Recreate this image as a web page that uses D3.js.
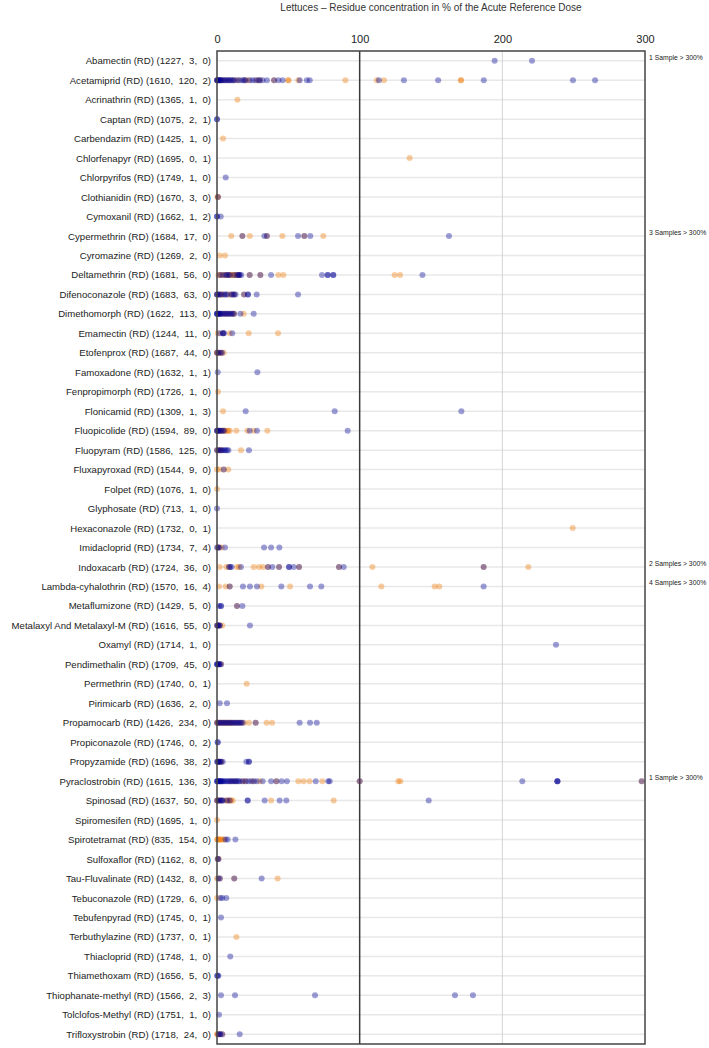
<!DOCTYPE html>
<html lang="en">
<head>
<meta charset="UTF-8" />
<title>Lettuces – Residue concentration in % of the Acute Reference Dose</title>
<script src="https://d3js.org/d3.v7.min.js"></script>
<style>
  body { margin: 0; background: #fff; }
  svg { display: block; font-family: "Liberation Sans", Arial, sans-serif; }
</style>
</head>
<body>
<svg id="chart" width="709" height="1048"></svg>
<script>
// substance labels (name, samples, detections, above-ARfD count as printed)
const substances = [
  "Abamectin (RD) (1227,  3,  0)",
  "Acetamiprid (RD) (1610,  120,  2)",
  "Acrinathrin (RD) (1365,  1,  0)",
  "Captan (RD) (1075,  2,  1)",
  "Carbendazim (RD) (1425,  1,  0)",
  "Chlorfenapyr (RD) (1695,  0,  1)",
  "Chlorpyrifos (RD) (1749,  1,  0)",
  "Clothianidin (RD) (1670,  3,  0)",
  "Cymoxanil (RD) (1662,  1,  2)",
  "Cypermethrin (RD) (1684,  17,  0)",
  "Cyromazine (RD) (1269,  2,  0)",
  "Deltamethrin (RD) (1681,  56,  0)",
  "Difenoconazole (RD) (1683,  63,  0)",
  "Dimethomorph (RD) (1622,  113,  0)",
  "Emamectin (RD) (1244,  11,  0)",
  "Etofenprox (RD) (1687,  44,  0)",
  "Famoxadone (RD) (1632,  1,  1)",
  "Fenpropimorph (RD) (1726,  1,  0)",
  "Flonicamid (RD) (1309,  1,  3)",
  "Fluopicolide (RD) (1594,  89,  0)",
  "Fluopyram (RD) (1586,  125,  0)",
  "Fluxapyroxad (RD) (1544,  9,  0)",
  "Folpet (RD) (1076,  1,  0)",
  "Glyphosate (RD) (713,  1,  0)",
  "Hexaconazole (RD) (1732,  0,  1)",
  "Imidacloprid (RD) (1734,  7,  4)",
  "Indoxacarb (RD) (1724,  36,  0)",
  "Lambda-cyhalothrin (RD) (1570,  16,  4)",
  "Metaflumizone (RD) (1429,  5,  0)",
  "Metalaxyl And Metalaxyl-M (RD) (1616,  55,  0)",
  "Oxamyl (RD) (1714,  1,  0)",
  "Pendimethalin (RD) (1709,  45,  0)",
  "Permethrin (RD) (1740,  0,  1)",
  "Pirimicarb (RD) (1636,  2,  0)",
  "Propamocarb (RD) (1426,  234,  0)",
  "Propiconazole (RD) (1746,  0,  2)",
  "Propyzamide (RD) (1696,  38,  2)",
  "Pyraclostrobin (RD) (1615,  136,  3)",
  "Spinosad (RD) (1637,  50,  0)",
  "Spiromesifen (RD) (1695,  1,  0)",
  "Spirotetramat (RD) (835,  154,  0)",
  "Sulfoxaflor (RD) (1162,  8,  0)",
  "Tau-Fluvalinate (RD) (1432,  8,  0)",
  "Tebuconazole (RD) (1729,  6,  0)",
  "Tebufenpyrad (RD) (1745,  0,  1)",
  "Terbuthylazine (RD) (1737,  0,  1)",
  "Thiacloprid (RD) (1748,  1,  0)",
  "Thiamethoxam (RD) (1656,  5,  0)",
  "Thiophanate-methyl (RD) (1566,  2,  3)",
  "Tolclofos-Methyl (RD) (1751,  1,  0)",
  "Trifloxystrobin (RD) (1718,  24,  0)"
];

// % of ARfD, blue series (one list per substance, same order)
const blueValues = [
  [194.6, 220.8],
  [0, 0, 0.5, 1, 1.5, 2, 2.5, 3, 4, 5, 6, 7, 8, 9, 10, 11, 12, 14, 16, 18, 19, 20, 23, 25, 27, 29, 30, 32, 35, 40, 43, 46, 58, 63, 65, 113.5, 131, 155, 187, 249.5, 265],
  [],
  [0, 0],
  [],
  [],
  [6.1],
  [0.7],
  [0, 0, 2.6],
  [17.8, 33.2, 35, 56.8, 61.2, 65.4, 162.6],
  [],
  [2, 4, 6, 7, 8, 9, 12, 14, 15, 15.5, 16, 17, 22.9, 30.4, 37.9, 73.6, 77.6, 77.6, 81.5, 81.5, 144],
  [0, 0, 1, 2, 3, 5, 6, 7, 10, 11, 12, 13, 19, 21.7, 21.7, 27.8, 56.8],
  [0, 0, 0, 1, 1, 2, 2, 3, 4, 5, 6, 7, 8, 9, 10, 11, 12, 16.4, 25.7],
  [1.9, 4.2, 4.2, 5, 10.7],
  [0, 1, 2.5, 3.5],
  [0.5, 28.3],
  [],
  [20.1, 82.5, 171.3],
  [0, 0, 1, 1, 2, 3, 4, 5, 22.9, 28, 91.6],
  [0, 1, 2, 3, 4, 5, 6, 7, 8, 22.4],
  [4.7],
  [],
  [0],
  [],
  [0, 1, 1.5, 5.6, 33, 37.9, 43.7],
  [8.4, 9.3, 10.2, 16.8, 35.7, 38.8, 43.5, 50.5, 50.5, 53.7, 57.5, 85.5, 88.8, 186.9],
  [8.9, 18.2, 23.1, 28, 45.1, 65.2, 73.1, 186.9],
  [1.4, 2.8, 2.8, 14, 17.8],
  [0, 0.5, 1, 1.5, 2, 23.1],
  [237.6],
  [0, 0, 0.5, 1, 1.5, 2, 2.8],
  [],
  [1.9, 7],
  [0, 1, 2, 3, 4, 5, 6, 7, 8, 9, 10, 11, 12, 13, 14, 15, 16, 17, 18, 27.1, 57.9, 65.2, 69.9],
  [0.5, 0.5],
  [0, 0.5, 1, 1.5, 2, 3, 4, 20.6, 22.4, 22.4],
  [0, 0, 0.5, 1, 1.5, 2, 2.5, 3, 3.5, 4, 5, 6, 7, 8, 9, 10, 11, 12, 13, 14, 15, 16, 18, 20, 22, 24, 26, 28, 32, 37.9, 41.6, 45.3, 49, 69.2, 78, 79, 100, 214, 238.6, 238.6, 238.6, 297.7],
  [0, 1, 2, 3, 3.5, 4, 7, 9, 21.5, 21.5, 33.4, 43.9, 48.6, 148.4],
  [],
  [6, 7.5, 12.9],
  [0.5, 1],
  [1, 2, 12.1, 31.3],
  [2.3, 3.7, 6.5],
  [2.8],
  [],
  [9.3],
  [0, 0.5, 1],
  [2.8, 12.6, 68.7, 166.8, 179.4],
  [1.4],
  [1, 2, 2.3, 3.7, 15.9]
];

// % of ARfD, orange series
const orangeValues = [
  [],
  [0, 1, 3, 5, 8, 12, 15, 20, 22, 28, 30, 40, 50, 50, 57, 90, 112, 117, 171, 171],
  [14.3],
  [],
  [4.2],
  [135],
  [],
  [0.3, 0.7],
  [],
  [10, 17.8, 23, 35, 45.8, 61.2, 74.5],
  [1.9, 5.6],
  [1, 2, 3, 5, 6, 8, 9, 10, 11, 12, 13, 14, 15, 22.9, 30.4, 43, 46.5, 124.5, 128.3],
  [0, 1, 3, 4, 8, 10, 12, 19],
  [2, 4, 6, 8, 11, 12, 18.7],
  [0.5, 4.2, 8.9, 22.2, 42.8],
  [0, 0, 1, 2, 3, 4.7],
  [],
  [0.7],
  [4.2],
  [0, 1, 2, 3, 4, 5, 6, 7, 8, 9, 13.6, 21.3, 25.7, 35.3],
  [0, 1, 2, 3, 16.8],
  [0, 1.4, 4.7, 7.9],
  [0],
  [],
  [249.3],
  [0.5, 1.5, 3.3],
  [1.9, 6.5, 8.4, 14, 15.4, 25.7, 29.4, 32.2, 35.7, 43.5, 57.5, 85.5, 108.9, 186.9, 218.2],
  [1.4, 6.1, 8.9, 31.1, 51.2, 115.2, 152.6, 155.8],
  [14],
  [0, 1, 2, 3.7],
  [],
  [1, 2.8],
  [20.8],
  [],
  [0, 0.5, 1, 2, 3, 4, 5, 6, 7, 8, 9, 10, 11, 13, 15, 17, 19, 22.4, 27.1, 34.8, 38.6],
  [],
  [0.5, 2, 3],
  [10, 13, 18, 20, 25, 30, 41.6, 57, 60.7, 64.9, 73.8, 100, 127.1, 128.5, 297.7],
  [0, 0.5, 1, 2, 5, 7, 8, 9, 10, 11, 37.9, 81.8],
  [0],
  [0, 0.5, 1, 1.5, 2, 3, 4, 5],
  [0.5, 1],
  [0, 2, 12.1, 42.5],
  [0],
  [],
  [13.6],
  [],
  [],
  [],
  [],
  [0, 0.5, 1, 3.7]
];

// notes for results beyond the axis
const overflowRows = ["Abamectin (RD) (1227,  3,  0)", "Cypermethrin (RD) (1684,  17,  0)", "Indoxacarb (RD) (1724,  36,  0)", "Lambda-cyhalothrin (RD) (1570,  16,  4)", "Pyraclostrobin (RD) (1615,  136,  3)"];
const overflowNotes = ["1 Sample > 300%", "3 Samples > 300%", "2 Samples > 300%", "4 Samples > 300%", "1 Sample > 300%"];

const xTicks = [0, 100, 200, 300];
const title = "Lettuces \u2013 Residue concentration in % of the Acute Reference Dose";

const svg = d3.select("#chart");
const plotLeft = 217, plotRight = 645, plotTop = 51, plotBottom = 1044;

const x = d3.scaleLinear().domain([0, 300]).range([plotLeft, plotRight]);
const y = d3.scalePoint().domain(substances).range([plotTop, plotBottom]).padding(0.5);

svg.append("text")
  .attr("x", (plotLeft + plotRight) / 2)
  .attr("y", 11)
  .attr("text-anchor", "middle")
  .attr("font-size", 10)
  .attr("fill", "#333")
  .text(title);

// horizontal row lines
svg.append("g")
  .selectAll("line")
  .data(substances)
  .join("line")
  .attr("x1", plotLeft)
  .attr("x2", plotRight)
  .attr("y1", d => y(d))
  .attr("y2", d => y(d))
  .attr("stroke", "#e8e8e8")
  .attr("stroke-width", 1.5);

// vertical grid
svg.append("line")
  .attr("x1", x(200)).attr("x2", x(200))
  .attr("y1", plotTop).attr("y2", plotBottom)
  .attr("stroke", "#d4d4d4")
  .attr("stroke-width", 1);

svg.append("line")
  .attr("x1", x(100)).attr("x2", x(100))
  .attr("y1", plotTop).attr("y2", plotBottom)
  .attr("stroke", "#3a3a3a")
  .attr("stroke-width", 1.5);

// top axis labels
const xAxis = svg.append("g")
  .attr("transform", `translate(0, ${plotTop - 8})`)
  .call(d3.axisTop(x).tickValues(xTicks).tickSize(0).tickPadding(0));
xAxis.select(".domain").remove();
xAxis.selectAll("text")
  .attr("font-family", "Liberation Sans, Arial, sans-serif")
  .attr("font-size", 11)
  .attr("fill", "#222");

// left labels
const yAxis = svg.append("g")
  .attr("transform", `translate(${plotLeft - 6}, 0)`)
  .call(d3.axisLeft(y).tickSize(0).tickPadding(0));
yAxis.select(".domain").remove();
yAxis.selectAll("text")
  .attr("font-family", "Liberation Sans, Arial, sans-serif")
  .attr("font-size", 9.6)
  .attr("fill", "#222")
  .style("white-space", "pre");

// points
const points = [];
substances.forEach((s, i) => {
  orangeValues[i].forEach(v => points.push({ s, v, c: "#f07a05" }));
  blueValues[i].forEach(v => points.push({ s, v, c: "#000094" }));
});

svg.append("g")
  .selectAll("circle")
  .data(points)
  .join("circle")
  .attr("cx", d => x(d.v))
  .attr("cy", d => y(d.s))
  .attr("r", 3)
  .attr("fill", d => d.c)
  .attr("fill-opacity", 0.38);

// frame
svg.append("rect")
  .attr("x", plotLeft)
  .attr("y", plotTop)
  .attr("width", plotRight - plotLeft)
  .attr("height", plotBottom - plotTop)
  .attr("fill", "none")
  .attr("stroke", "#444")
  .attr("stroke-width", 1.5);

// overflow notes
svg.append("g")
  .selectAll("text")
  .data(overflowRows)
  .join("text")
  .attr("x", plotRight + 4)
  .attr("y", d => y(d) - 1)
  .attr("font-size", 6.8)
  .attr("fill", "#222")
  .text((d, i) => overflowNotes[i]);
</script>
</body>
</html>
